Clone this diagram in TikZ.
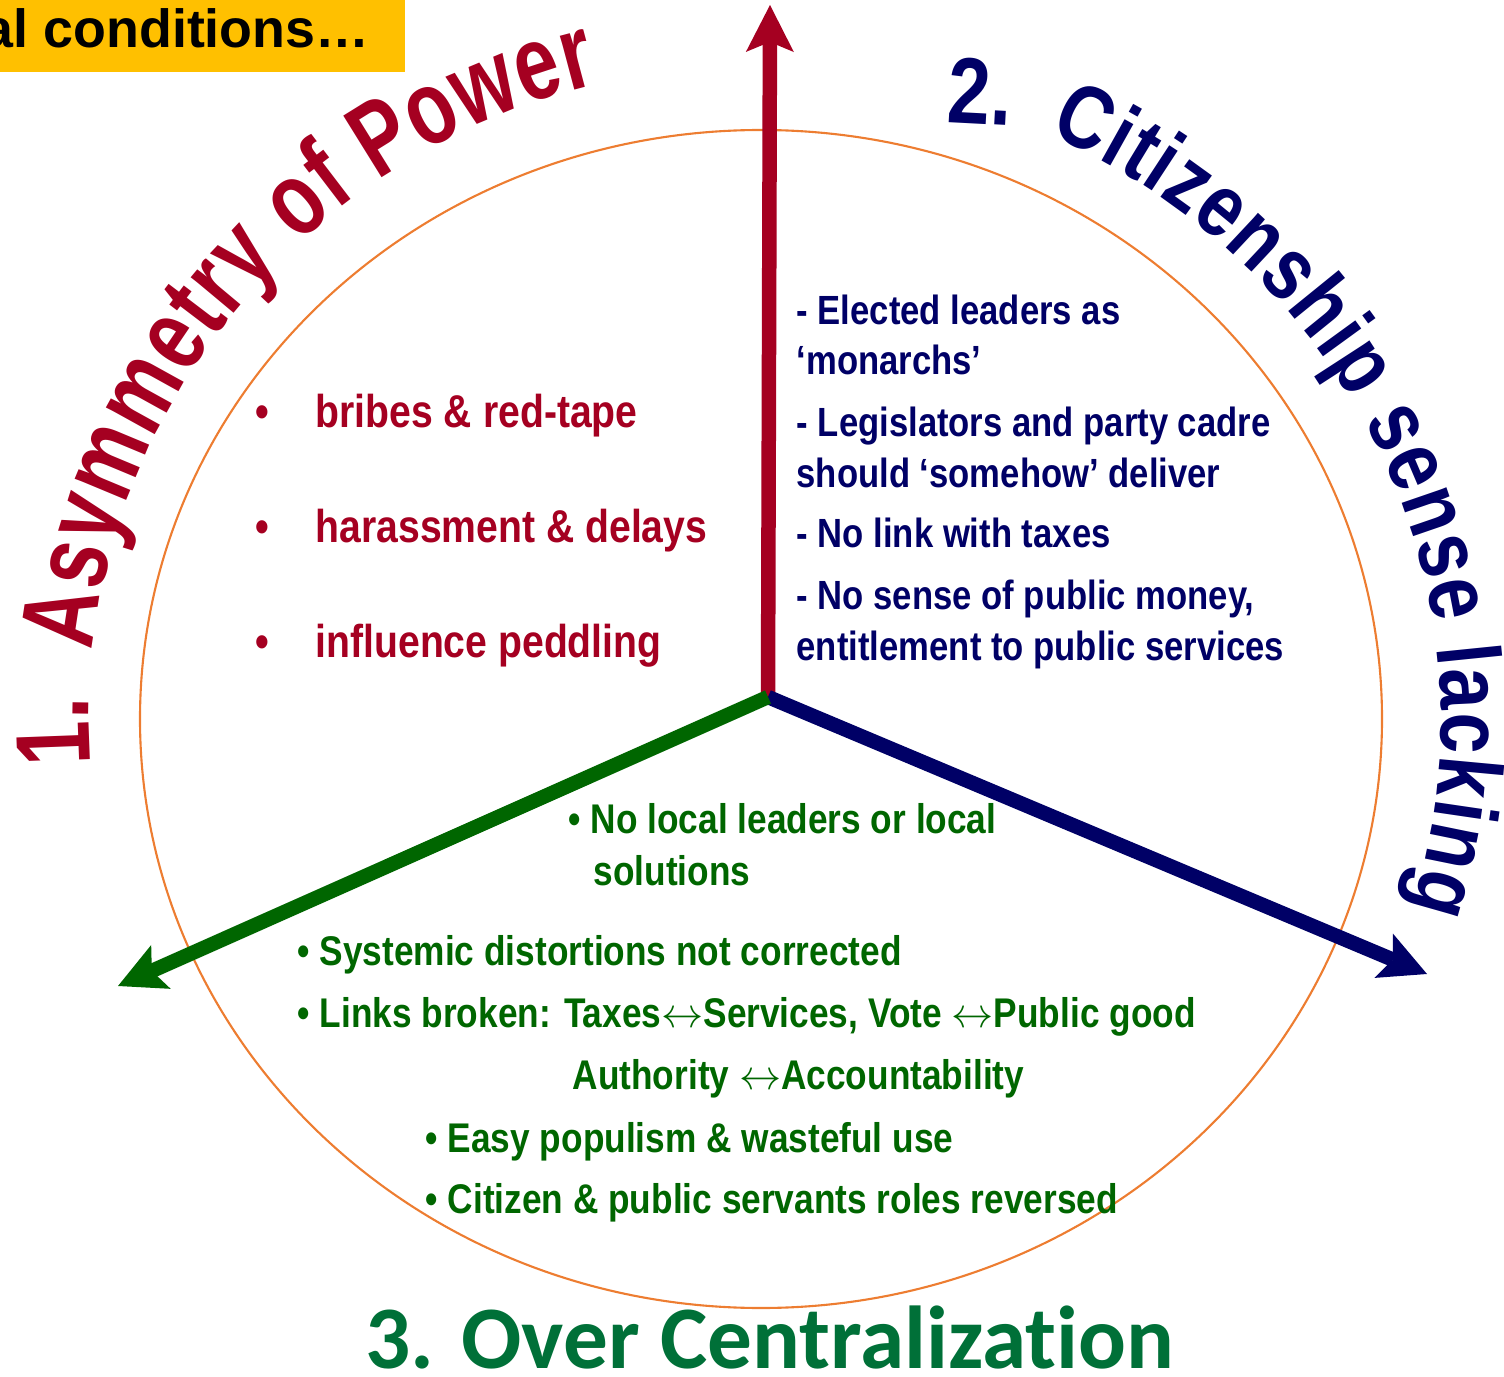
\documentclass[tikz,border=0pt]{standalone}
\usepackage{fontspec}
\setmainfont{Liberation Sans}
\newfontfamily\narrowsf[FakeStretch=0.85]{Liberation Sans}
\newfontfamily\arcsf[FakeStretch=0.75]{Liberation Sans}
\newfontfamily\arcsfb[FakeStretch=0.82]{Liberation Sans}
\newfontfamily\titlesf[Ligatures=NoCommon]{Carlito}
\usetikzlibrary{arrows.meta,decorations.text}
\definecolor{asymred}{RGB}{165,0,33}
\definecolor{citnavy}{RGB}{0,0,102}
\definecolor{cengreen}{RGB}{0,102,0}
\definecolor{titlegreen}{RGB}{0,112,56}
\definecolor{ringorange}{RGB}{237,125,49}
\definecolor{boxyellow}{RGB}{255,192,0}
\newcommand\lrarr{$\leftrightarrow$}
\tikzset{
  redtxt/.style={anchor=base west, inner sep=0pt, text=asymred, font=\narrowsf\bfseries\fontsize{13.1}{15}\selectfont},
  navytxt/.style={anchor=base west, inner sep=0pt, text=citnavy, font=\narrowsf\bfseries\fontsize{11.6}{14}\selectfont},
  greentxt/.style={anchor=base west, inner sep=0pt, text=cengreen, font=\narrowsf\bfseries\fontsize{11.8}{14}\selectfont},
  spoke/.style={->, line width=1.45mm},
}
\begin{document}
\begin{tikzpicture}[line join=round, >={Stealth[length=4.7mm, width=4.8mm, inset=1mm, line width=0pt]}]
	\def\cx{7.61} \def\cy{6.57} % tam vong
	\useasboundingbox (0,0) rectangle (15.04,13.76);
	% khung vang
	\fill[boxyellow] (0,13.04) rectangle (4.05,13.76);
	\begin{scope}
		\clip (0,13.04) rectangle (4.05,13.76);
		\node[anchor=base east, inner sep=0pt, font=\bfseries\fontsize{15.3}{18}\selectfont] (cond) at (3.70,13.28) {al conditions…};
	\end{scope}
	% vong cam
	\draw[ringorange, line width=0.6pt] (\cx,\cy) ellipse [x radius=6.21, y radius=5.89];
	% ba mui ten
	\coordinate (O) at (7.68,6.79);
	\coordinate (tipN) at (7.70,13.71);
	\coordinate (tipE) at (14.27,4.02);
	\coordinate (tipW) at (1.18,3.90);
	\draw[spoke, asymred] (O) -- (tipN);
	\draw[spoke, citnavy] (O) -- (tipE);
	\draw[spoke, cengreen] (O) -- (tipW);
	% chu cong
	\path[decorate, decoration={text along path, text align=fit to path, text color=asymred,
			text={|\arcsf\bfseries\fontsize{30}{32}\selectfont|1.{~~}Asymmetry of Power}}]
		([shift={(\cx,\cy)}]184:6.72 and 6.55) arc[start angle=184, end angle=104, x radius=6.72, y radius=6.55];
	\path[decorate, decoration={text along path, text align=fit to path, text color=citnavy,
			text={|\arcsfb\bfseries\fontsize{25.5}{28}\selectfont|Citizenship sense lacking}}]
		([shift={(\cx,\cy)}]65:6.80 and 6.45) arc[start angle=65, end angle=-17, x radius=6.80, y radius=6.45];
	\node[anchor=base west, inner sep=0pt, rotate=-3, text=citnavy, font=\arcsfb\bfseries\fontsize{26.7}{28}\selectfont] (two) at (9.46,12.54) {2.};
	\node[anchor=base, inner sep=0pt, text=titlegreen, font=\titlesf\bfseries\fontsize{25.4}{30}\selectfont] (over) at (7.70,0.08) {3. Over Centralization};
	% muc 1
	\node[redtxt] (bribes) at (2.55,9.48) {\makebox[0.60cm][l]{•}bribes \& red-tape};
	\node[redtxt] (harass) at (2.55,8.34) {\makebox[0.60cm][l]{•}harassment \& delays};
	\node[redtxt] (peddle) at (2.55,7.19) {\makebox[0.60cm][l]{•}influence peddling};
	% muc 2
	\node[navytxt] (elect) at (7.96,10.51) {- Elected leaders as};
	\node[navytxt] (monarch) at (7.96,10.01) {‘monarchs’};
	\node[navytxt] (legis) at (7.96,9.39) {- Legislators and party cadre};
	\node[navytxt] (should) at (7.96,8.88) {should ‘somehow’ deliver};
	\node[navytxt] (taxes) at (7.96,8.28) {- No link with taxes};
	\node[navytxt] (money) at (7.96,7.66) {- No sense of public money,};
	\node[navytxt] (entitle) at (7.96,7.16) {entitlement to public services};
	% muc 3
	\node[greentxt] (local) at (5.68,5.43) {• No local leaders or local};
	\node[greentxt] (solut) at (5.93,4.91) {solutions};
	\node[greentxt] (system) at (2.97,4.11) {• Systemic distortions not corrected};
	\node[greentxt] (links) at (2.97,3.49) {• Links broken: Taxes\lrarr Services, Vote \lrarr Public good};
	\node[greentxt] (author) at (5.72,2.87) {Authority \lrarr Accountability};
	\node[greentxt] (easy) at (4.25,2.24) {• Easy populism \& wasteful use};
	\node[greentxt] (roles) at (4.25,1.63) {• Citizen \& public servants roles reversed};
\end{tikzpicture}
\end{document}
